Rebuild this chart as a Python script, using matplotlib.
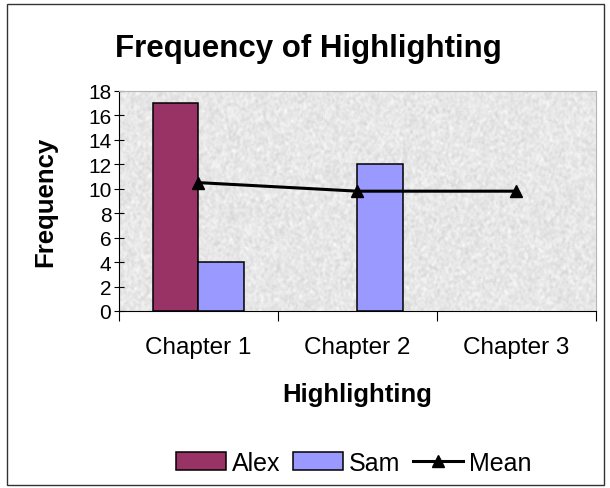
import numpy as np
import matplotlib.pyplot as plt
from matplotlib.patches import Rectangle

plt.rcParams['font.family'] = ['Liberation Sans', 'DejaVu Sans']

# data
chapters = ["Chapter 1", "Chapter 2", "Chapter 3"]
alex = [17, 0, 0]
sam = [4, 12, 0]
mean = [10.5, 9.8, 9.8]

alex_color = "#993366"
sam_color = "#9999FF"

fig = plt.figure(figsize=(6.10, 4.89), dpi=100)
ax = fig.add_axes([0.195, 0.362, 0.782, 0.450])

# granite-style background of the plot area
rng = np.random.default_rng(7)
noise = rng.random((200, 520))
smooth = np.zeros_like(noise)
for dy in range(-1, 2):
    for dx in range(-1, 2):
        smooth += np.roll(np.roll(noise, dy, axis=0), dx, axis=1)
smooth = (smooth - smooth.min()) / (smooth.max() - smooth.min())
tex = 0.82 + 0.17 * smooth
ax.imshow(tex, cmap="gray", vmin=0, vmax=1, extent=[-0.5, 2.5, 0, 18],
          aspect="auto", interpolation="bilinear", zorder=0)

x = np.arange(len(chapters))
w = 0.2857
# empty cells get no bar at all
alex_h = np.where(np.array(alex) > 0, alex, np.nan)
sam_h = np.where(np.array(sam) > 0, sam, np.nan)
b1 = ax.bar(x - w / 2, alex_h, w, color=alex_color, edgecolor="black",
            linewidth=1.1, label="Alex", zorder=2)
b2 = ax.bar(x + w / 2, sam_h, w, color=sam_color, edgecolor="black",
            linewidth=1.1, label="Sam", zorder=2)
ln, = ax.plot(x, mean, color="black", linewidth=2.2, marker="^", markersize=9,
              label="Mean", zorder=3)

ax.set_xlim(-0.5, 2.5)
ax.set_ylim(0, 18)
ax.set_yticks(np.arange(0, 19, 2))
ax.tick_params(axis="y", direction="inout", length=7, width=0.8, pad=2,
               labelsize=15)

# category separators as major ticks, names on minor ticks
ax.set_xticks([-0.5, 0.5, 1.5, 2.5])
ax.set_xticklabels([])
ax.set_xticks(x, minor=True)
ax.set_xticklabels(chapters, minor=True)
ax.tick_params(axis="x", which="major", direction="out", length=7, width=0.8)
ax.tick_params(axis="x", which="minor", length=0, pad=18, labelsize=17.5)

for s in ["top", "right"]:
    ax.spines[s].set_color("#b5b5b5")
for s in ["left", "bottom"]:
    ax.spines[s].set_color("black")

ax.set_xlabel("Highlighting", fontsize=18.5, fontweight="bold")
ax.xaxis.set_label_coords(0.5, -0.325)
ax.set_ylabel("Frequency", fontsize=18.5, fontweight="bold")
ax.yaxis.set_label_coords(-0.13, 0.5)

fig.text(0.505, 0.9, "Frequency of Highlighting", ha="center", va="center",
         fontsize=22.5, fontweight="bold")

fig.legend([b1, b2, ln], ["Alex", "Sam", "Mean"], loc="center",
           bbox_to_anchor=(0.58, 0.052), ncol=3, frameon=False,
           fontsize=18, handlelength=2.0, handleheight=0.75, handletextpad=0.25,
           columnspacing=0.5)

# chart border
fig.patches.append(Rectangle((7 / 610, 3 / 489), 597 / 610, 481 / 489,
                             transform=fig.transFigure, fill=False,
                             edgecolor="#333333", linewidth=1.0))

fig.savefig("out.png", dpi=100)
